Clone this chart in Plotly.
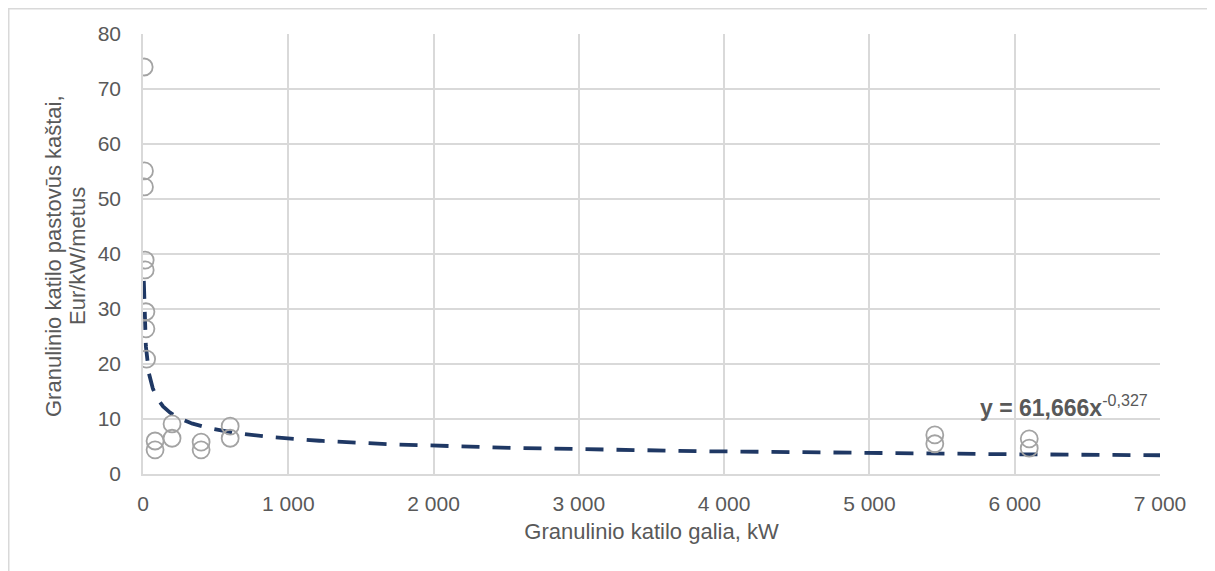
import plotly.graph_objects as go
import numpy as np

# Data
power_kw = [8, 10, 10, 15, 15, 20, 20, 25, 83, 83, 200, 200, 400, 400, 600, 600, 5450, 5450, 6100, 6100]
cost_eur = [74.0, 55.1, 52.2, 38.9, 37.1, 29.5, 26.4, 20.9, 6.0, 4.4, 9.1, 6.5, 5.8, 4.4, 8.7, 6.5, 7.1, 5.5, 6.4, 4.7]

trend_a = 61.666
trend_b = -0.327
trend_x_start = 5.6
trend_x_end = 7000

x_tickvals = [0, 1000, 2000, 3000, 4000, 5000, 6000, 7000]
x_ticktext = ["0", "1 000", "2 000", "3 000", "4 000", "5 000", "6 000", "7 000"]
y_tickvals = [0, 10, 20, 30, 40, 50, 60, 70, 80]
y_title_lines = ["Granulinio katilo pastovūs kaštai,", "Eur/kW/metus"]
x_title = "Granulinio katilo galia, kW"

tx = np.geomspace(trend_x_start, trend_x_end, 400)
ty = trend_a * tx ** trend_b

FONT = "Liberation Sans, Arial, sans-serif"
TXT = "#595959"
GRID = "#d9d9d9"

# page body has an 8px default margin; compensate
OFF = 8
W, H = 1215 - OFF, 571 - OFF
L, T = 143 - OFF, 34 - OFF
PW, PH = 1017, 440
R, B = W - L - PW, H - T - PH

fig = go.Figure()
fig.add_trace(go.Scatter(
    x=tx, y=ty, mode="lines",
    line=dict(color="#1f3864", width=3.8, dash="18px,13px"),
    hoverinfo="skip", showlegend=False,
))
fig.add_trace(go.Scatter(
    x=power_kw, y=cost_eur, mode="markers",
    marker=dict(symbol="circle-open", size=17, color="#a3a3a3", line=dict(width=1.8, color="#a3a3a3")),
    showlegend=False,
))

def px2paper_x(px):
    return (px - 143) / PW

def px2paper_y(py):
    return (474 - py) / PH

annotations = [dict(
    x=px2paper_x(1150), y=px2paper_y(406), xref="paper", yref="paper",
    text="<b>y = 61,666x</b><sup>-0,327</sup>",
    showarrow=False, xanchor="right", yanchor="middle",
    font=dict(size=23, color=TXT, family=FONT),
)]
for cx, line in zip([53, 77], y_title_lines):
    annotations.append(dict(
        x=px2paper_x(cx), y=px2paper_y(256), xref="paper", yref="paper",
        text=line, textangle=-90, showarrow=False,
        xanchor="center", yanchor="middle",
        font=dict(size=22, color=TXT, family=FONT),
    ))

fig.update_layout(
    width=W, height=H,
    margin=dict(l=L, r=R, t=T, b=B, autoexpand=False),
    plot_bgcolor="white", paper_bgcolor="white",
    font=dict(family=FONT, color=TXT, size=20),
    xaxis=dict(
        range=[0, 7000], tickvals=x_tickvals, ticktext=x_ticktext,
        showgrid=True, gridcolor=GRID, gridwidth=1.5,
        showline=True, linecolor=GRID, linewidth=1.5, zeroline=False,
        ticks="", ticklabelstandoff=10,
        tickfont=dict(size=21, color=TXT),
        title=dict(text=x_title, font=dict(size=22, color=TXT), standoff=10),
    ),
    yaxis=dict(
        range=[0, 80], tickvals=y_tickvals,
        showgrid=True, gridcolor=GRID, gridwidth=1.5,
        showline=True, linecolor=GRID, linewidth=1.5, zeroline=False,
        ticks="", ticklabelstandoff=16,
        tickfont=dict(size=21, color=TXT),
    ),
    shapes=[dict(
        type="rect", xref="paper", yref="paper",
        x0=px2paper_x(8.75), x1=px2paper_x(1212),
        y0=px2paper_y(585), y1=px2paper_y(8.75),
        line=dict(color=GRID, width=1.5), layer="below",
    )],
    annotations=annotations,
)

fig.write_html("out.html")
